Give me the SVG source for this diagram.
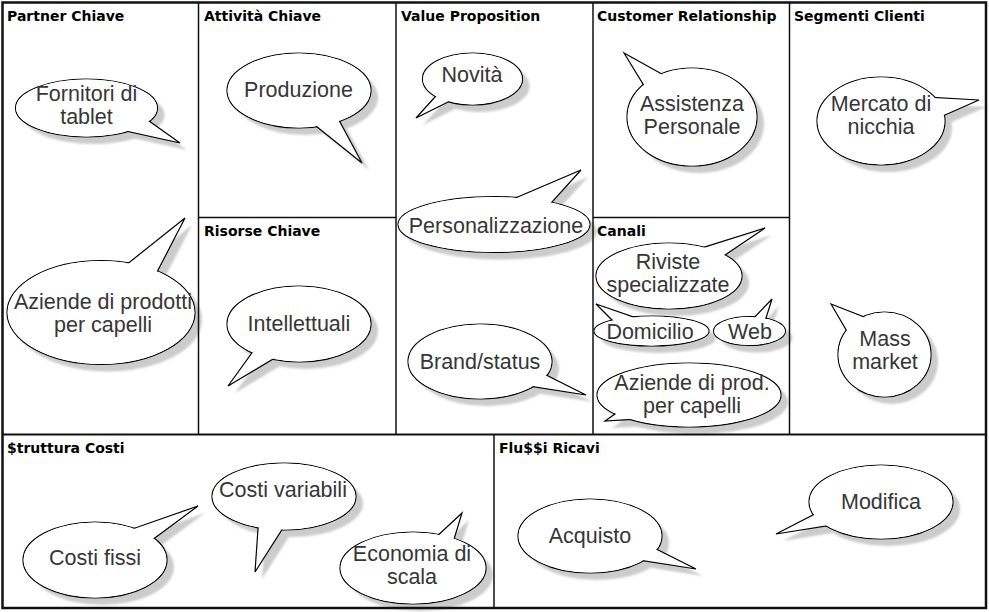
<svg xmlns="http://www.w3.org/2000/svg" width="989" height="612" viewBox="0 0 989 612">
  <defs>
    <filter id="soft" x="-10%" y="-10%" width="120%" height="120%">
      <feGaussianBlur stdDeviation="1.3"/>
    </filter>
    <style>
      .shadow { fill: #cccccc; stroke: none; filter: url(#soft); }
      .b { fill: #ffffff; stroke: #000000; stroke-width: 1.2; stroke-linejoin: miter; }
      .cover { fill: #ffffff; stroke: none; }
      .lbl { font-family: "Liberation Sans", Arial, sans-serif; font-size: 21.5px; fill: #363636; text-anchor: middle; }
      .title { font-family: "DejaVu Sans", Verdana, sans-serif; font-weight: bold; font-size: 14px; fill: #000000; }
      .frame { fill: none; stroke: #111111; stroke-width: 2.5; }
      .grid { stroke: #111111; stroke-width: 1.5; fill: none; }
    </style>
  </defs>

  <rect width="989" height="612" fill="#ffffff"/>

  <!-- Partner Chiave -->
  <g id="fornitori">
    <g class="shadow" transform="translate(7,7)"><ellipse cx="86.5" cy="108" rx="71" ry="29"/><polygon points="180,143 142,116 119,129.5"/></g>
    <ellipse class="b" cx="86.5" cy="108" rx="71" ry="29"/>
    <polygon class="b" points="180,143 142,116 119,129.5"/>
    <ellipse class="cover" cx="86.5" cy="108" rx="70.4" ry="28.4"/>
    <text class="lbl" x="86.5" y="101">Fornitori di</text>
    <text class="lbl" x="86.5" y="124">tablet</text>
  </g>
  <g id="aziende-prodotti">
    <g class="shadow" transform="translate(7,7)"><ellipse cx="101" cy="312.5" rx="94" ry="52"/><polygon points="185,218 113.5,275 150,285.6"/></g>
    <ellipse class="b" cx="101" cy="312.5" rx="94" ry="52"/>
    <polygon class="b" points="185,218 113.5,275 150,285.6"/>
    <ellipse class="cover" cx="101" cy="312.5" rx="93.4" ry="51.4"/>
    <text class="lbl" x="103" y="309">Aziende di prodotti</text>
    <text class="lbl" x="103" y="332">per capelli</text>
  </g>

  <!-- Attività Chiave / Risorse Chiave -->
  <g id="produzione">
    <g class="shadow" transform="translate(7,7)"><ellipse cx="299" cy="90.5" rx="72" ry="37.5"/><polygon points="362,163 303.5,116 333.4,109.7"/></g>
    <ellipse class="b" cx="299" cy="90.5" rx="72" ry="37.5"/>
    <polygon class="b" points="362,163 303.5,116 333.4,109.7"/>
    <ellipse class="cover" cx="299" cy="90.5" rx="71.4" ry="36.9"/>
    <text class="lbl" x="298.5" y="97">Produzione</text>
  </g>
  <g id="intellettuali">
    <g class="shadow" transform="translate(7,7)"><ellipse cx="299" cy="324" rx="72" ry="38"/><polygon points="228,386 259,343 286.5,351"/></g>
    <ellipse class="b" cx="299" cy="324" rx="72" ry="38"/>
    <polygon class="b" points="228,386 259,343 286.5,351"/>
    <ellipse class="cover" cx="299" cy="324" rx="71.4" ry="37.4"/>
    <text class="lbl" x="299" y="331">Intellettuali</text>
  </g>

  <!-- Value Proposition -->
  <g id="novita">
    <g class="shadow" transform="translate(7,7)"><ellipse cx="472.5" cy="79" rx="50" ry="26"/><polygon points="416,118 443,88 457.6,97.2"/></g>
    <ellipse class="b" cx="472.5" cy="79" rx="50" ry="26"/>
    <polygon class="b" points="416,118 443,88 457.6,97.2"/>
    <ellipse class="cover" cx="472.5" cy="79" rx="49.4" ry="25.4"/>
    <text class="lbl" x="472" y="82">Novità</text>
  </g>
  <g id="personalizzazione">
    <g class="shadow" transform="translate(7,7)"><ellipse cx="494" cy="224.5" rx="96" ry="28"/><polygon points="581,170 501.7,203.8 543.3,211.6"/></g>
    <ellipse class="b" cx="494" cy="224.5" rx="96" ry="28"/>
    <polygon class="b" points="581,170 501.7,203.8 543.3,211.6"/>
    <ellipse class="cover" cx="494" cy="224.5" rx="95.4" ry="27.4"/>
    <text class="lbl" x="496" y="233">Personalizzazione</text>
  </g>
  <g id="brand-status">
    <g class="shadow" transform="translate(7,7)"><ellipse cx="480" cy="361.5" rx="72" ry="37.5"/><polygon points="586,395 536.6,370.3 519.7,384.6"/></g>
    <ellipse class="b" cx="480" cy="361.5" rx="72" ry="37.5"/>
    <polygon class="b" points="586,395 536.6,370.3 519.7,384.6"/>
    <ellipse class="cover" cx="480" cy="361.5" rx="71.4" ry="36.9"/>
    <text class="lbl" x="480" y="369">Brand/status</text>
  </g>

  <!-- Customer Relationship / Canali -->
  <g id="assistenza">
    <g class="shadow" transform="translate(7,7)"><ellipse cx="692" cy="117" rx="65" ry="49"/><polygon points="624,53 670.8,79 648.7,93.3"/></g>
    <ellipse class="b" cx="692" cy="117" rx="65" ry="49"/>
    <polygon class="b" points="624,53 670.8,79 648.7,93.3"/>
    <ellipse class="cover" cx="692" cy="117" rx="64.4" ry="48.4"/>
    <text class="lbl" x="692" y="111">Assistenza</text>
    <text class="lbl" x="692" y="134">Personale</text>
  </g>
  <g id="riviste">
    <g class="shadow" transform="translate(7,7)"><ellipse cx="669" cy="276" rx="73" ry="33"/><polygon points="765,228 690.9,251.4 716.9,260.5"/></g>
    <ellipse class="b" cx="669" cy="276" rx="73" ry="33"/>
    <polygon class="b" points="765,228 690.9,251.4 716.9,260.5"/>
    <ellipse class="cover" cx="669" cy="276" rx="72.4" ry="32.4"/>
    <text class="lbl" x="668" y="269">Riviste</text>
    <text class="lbl" x="668" y="292">specializzate</text>
  </g>
  <g id="domicilio">
    <g class="shadow" transform="translate(7,7)"><ellipse cx="651.5" cy="331" rx="57.5" ry="15"/><polygon points="596,304 640.4,319.4 616,324"/></g>
    <ellipse class="b" cx="651.5" cy="331" rx="57.5" ry="15"/>
    <polygon class="b" points="596,304 640.4,319.4 616,324"/>
    <ellipse class="cover" cx="651.5" cy="331" rx="56.9" ry="14.4"/>
    <text class="lbl" x="650" y="338.5">Domicilio</text>
  </g>
  <g id="web">
    <g class="shadow" transform="translate(7,7)"><ellipse cx="749.5" cy="331" rx="36" ry="14.5"/><polygon points="772,299 749.9,322 764.2,323.8"/></g>
    <ellipse class="b" cx="749.5" cy="331" rx="36" ry="14.5"/>
    <polygon class="b" points="772,299 749.9,322 764.2,323.8"/>
    <ellipse class="cover" cx="749.5" cy="331" rx="35.4" ry="13.9"/>
    <text class="lbl" x="750" y="338.5">Web</text>
  </g>
  <g id="aziende-prod">
    <g class="shadow" transform="translate(7,7)"><ellipse cx="689" cy="395" rx="92" ry="32"/><polygon points="605,421 619,411.2 640,418.9"/></g>
    <ellipse class="b" cx="689" cy="395" rx="92" ry="32"/>
    <polygon class="b" points="605,421 619,411.2 640,418.9"/>
    <ellipse class="cover" cx="689" cy="395" rx="91.4" ry="31.4"/>
    <text class="lbl" x="692" y="390">Aziende di prod.</text>
    <text class="lbl" x="692" y="413">per capelli</text>
  </g>

  <!-- Segmenti Clienti -->
  <g id="mercato-nicchia">
    <g class="shadow" transform="translate(7,7)"><ellipse cx="881" cy="121" rx="64" ry="44"/><polygon points="979,100 924.4,96.9 931.4,121"/></g>
    <ellipse class="b" cx="881" cy="121" rx="64" ry="44"/>
    <polygon class="b" points="979,100 924.4,96.9 931.4,121"/>
    <ellipse class="cover" cx="881" cy="121" rx="63.4" ry="43.4"/>
    <text class="lbl" x="881" y="111">Mercato di</text>
    <text class="lbl" x="881" y="134">nicchia</text>
  </g>
  <g id="mass-market">
    <g class="shadow" transform="translate(7,7)"><ellipse cx="884.5" cy="354.5" rx="46.5" ry="42.5"/><polygon points="831,304 872.4,320.2 850.6,337.6"/></g>
    <ellipse class="b" cx="884.5" cy="354.5" rx="46.5" ry="42.5"/>
    <polygon class="b" points="831,304 872.4,320.2 850.6,337.6"/>
    <ellipse class="cover" cx="884.5" cy="354.5" rx="45.9" ry="41.9"/>
    <text class="lbl" x="885" y="346">Mass</text>
    <text class="lbl" x="885" y="369">market</text>
  </g>

  <!-- Struttura Costi -->
  <g id="costi-variabili">
    <g class="shadow" transform="translate(7,7)"><ellipse cx="284" cy="496.5" rx="72" ry="33.5"/><polygon points="255,572 258.9,516 291.4,514.8"/></g>
    <ellipse class="b" cx="284" cy="496.5" rx="72" ry="33.5"/>
    <polygon class="b" points="255,572 258.9,516 291.4,514.8"/>
    <ellipse class="cover" cx="284" cy="496.5" rx="71.4" ry="32.9"/>
    <text class="lbl" x="283" y="497">Costi variabili</text>
  </g>
  <g id="costi-fissi">
    <g class="shadow" transform="translate(7,7)"><ellipse cx="95" cy="560" rx="72" ry="38"/><polygon points="198,506 120,533.3 142,547.6"/></g>
    <ellipse class="b" cx="95" cy="560" rx="72" ry="38"/>
    <polygon class="b" points="198,506 120,533.3 142,547.6"/>
    <ellipse class="cover" cx="95" cy="560" rx="71.4" ry="37.4"/>
    <text class="lbl" x="95" y="564.5">Costi fissi</text>
  </g>
  <g id="economia-scala">
    <g class="shadow" transform="translate(7,7)"><ellipse cx="413" cy="568" rx="73" ry="36"/><polygon points="462,513 424.3,548 452.2,545.2"/></g>
    <ellipse class="b" cx="413" cy="568" rx="73" ry="36"/>
    <polygon class="b" points="462,513 424.3,548 452.2,545.2"/>
    <ellipse class="cover" cx="413" cy="568" rx="72.4" ry="35.4"/>
    <text class="lbl" x="412" y="561">Economia di</text>
    <text class="lbl" x="412" y="584">scala</text>
  </g>

  <!-- Flussi Ricavi -->
  <g id="acquisto">
    <g class="shadow" transform="translate(7,7)"><ellipse cx="590" cy="536" rx="72" ry="37"/><polygon points="696,569 646.6,544.3 629.7,558.6"/></g>
    <ellipse class="b" cx="590" cy="536" rx="72" ry="37"/>
    <polygon class="b" points="696,569 646.6,544.3 629.7,558.6"/>
    <ellipse class="cover" cx="590" cy="536" rx="71.4" ry="36.4"/>
    <text class="lbl" x="590" y="542.5">Acquisto</text>
  </g>
  <g id="modifica">
    <g class="shadow" transform="translate(7,7)"><ellipse cx="881" cy="502" rx="72" ry="37"/><polygon points="776,534 824.1,509.3 841,523.6"/></g>
    <ellipse class="b" cx="881" cy="502" rx="72" ry="37"/>
    <polygon class="b" points="776,534 824.1,509.3 841,523.6"/>
    <ellipse class="cover" cx="881" cy="502" rx="71.4" ry="36.4"/>
    <text class="lbl" x="881" y="508.5">Modifica</text>
  </g>

  <!-- canvas grid -->
  <g id="grid">
    <rect class="frame" x="2.5" y="2.5" width="983.5" height="605.5"/>
    <line class="grid" x1="198.5" y1="2.5" x2="198.5" y2="434.5"/>
    <line class="grid" x1="396" y1="2.5" x2="396" y2="434.5"/>
    <line class="grid" x1="593" y1="2.5" x2="593" y2="434.5"/>
    <line class="grid" x1="789.5" y1="2.5" x2="789.5" y2="434.5"/>
    <line class="grid" x1="198.5" y1="217.5" x2="396" y2="217.5"/>
    <line class="grid" x1="593" y1="217.5" x2="789.5" y2="217.5"/>
    <line class="grid" x1="2.5" y1="434.5" x2="986" y2="434.5" style="stroke-width:2"/>
    <line class="grid" x1="494" y1="434.5" x2="494" y2="608"/>
  </g>

  <!-- section titles -->
  <g id="titles">
    <text class="title" x="7" y="21">Partner Chiave</text>
    <text class="title" x="204" y="21">Attività Chiave</text>
    <text class="title" x="401" y="21">Value Proposition</text>
    <text class="title" x="597" y="21">Customer Relationship</text>
    <text class="title" x="794" y="21">Segmenti Clienti</text>
    <text class="title" x="204" y="236">Risorse Chiave</text>
    <text class="title" x="597" y="236">Canali</text>
    <text class="title" x="7" y="453">$truttura Costi</text>
    <text class="title" x="499" y="453">Flu$$i Ricavi</text>
  </g>
</svg>
